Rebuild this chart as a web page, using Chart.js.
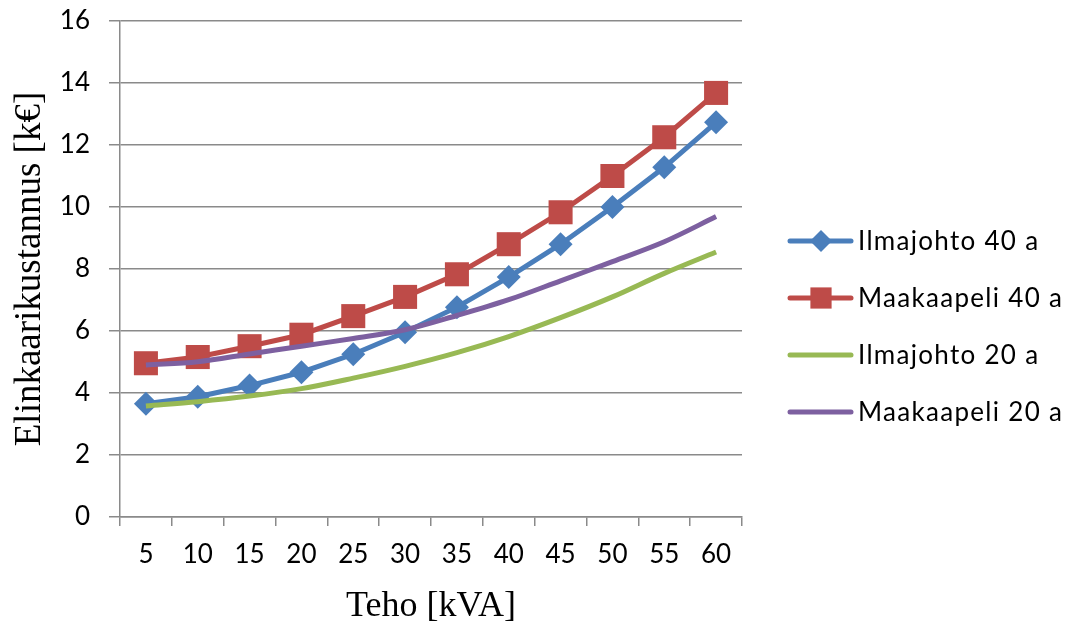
<!DOCTYPE html>
<html>
<head>
<meta charset="utf-8">
<script src="https://cdn.jsdelivr.net/npm/chart.js@4.4.1/dist/chart.umd.min.js"></script>
<style>
html,body{margin:0;padding:0;background:#fff;}
#wrap{position:relative;width:1076px;height:628px;}
</style>
</head>
<body>
<div id="wrap"><canvas id="c" width="1076" height="628"></canvas></div>
<script>
const categories = ['5','10','15','20','25','30','35','40','45','50','55','60'];
const ilmajohto40 = [3.65, 3.88, 4.24, 4.67, 5.25, 5.96, 6.77, 7.74, 8.80, 10.0, 11.28, 12.73];
const maakaapeli40 = [4.96, 5.16, 5.51, 5.88, 6.48, 7.10, 7.83, 8.80, 9.83, 11.0, 12.25, 13.68];
const ilmajohto20 = [3.58, 3.72, 3.90, 4.14, 4.48, 4.86, 5.30, 5.82, 6.43, 7.10, 7.86, 8.55];
const maakaapeli20 = [4.90, 5.01, 5.26, 5.51, 5.76, 6.04, 6.50, 7.01, 7.62, 8.24, 8.88, 9.69];
const seriesNames = ['Ilmajohto 40 a','Maakaapeli 40 a','Ilmajohto 20 a','Maakaapeli 20 a'];
const yTitle = 'Elinkaarikustannus [k€]';
const xTitle = 'Teho [kVA]';

const GRID = '#8a8a8a';
const tickFont = {family: 'Lato, "Liberation Sans", sans-serif', size: 26};

const legendPlugin = {
  id: 'customLegend',
  afterDraw(chart) {
    const ctx = chart.ctx;
    const ys = [241, 298, 355, 412];
    const legendRadius = [11, 15, 0, 0];
    chart.data.datasets.forEach((ds, i) => {
      const y = ys[i];
      ctx.save();
      ctx.strokeStyle = ds.borderColor;
      ctx.lineWidth = ds.borderWidth;
      ctx.lineCap = 'round';
      ctx.beginPath();
      ctx.moveTo(790, y);
      ctx.lineTo(851, y);
      ctx.stroke();
      if (legendRadius[i] > 0) {
        ctx.fillStyle = ds.pointBackgroundColor;
        ctx.strokeStyle = ds.pointBorderColor;
        ctx.lineWidth = 0;
        Chart.helpers.drawPoint(ctx, {pointStyle: ds.pointStyle, radius: legendRadius[i], borderWidth: 0, rotation: 0}, 821, y);
      }
      ctx.fillStyle = '#000';
      ctx.font = '26px Lato, "Liberation Sans", sans-serif';
      try { ctx.letterSpacing = '1.3px'; } catch (e) {}
      ctx.textBaseline = 'middle';
      ctx.textAlign = 'left';
      ctx.fillText(ds.label, 858, y + 1);
      ctx.restore();
    });
  }
};

function noPad(s) { s.paddingTop = 0; s.paddingBottom = 0; s.paddingLeft = 0; s.paddingRight = 0; }

new Chart(document.getElementById('c'), {
  type: 'line',
  data: {
    labels: categories,
    datasets: [
      {label: seriesNames[0], data: ilmajohto40, borderColor: '#4A7EBB', backgroundColor: '#4A7EBB', borderWidth: 5,
       pointStyle: 'rectRot', pointRadius: 12, pointBackgroundColor: '#4A7EBB', pointBorderColor: '#4A7EBB', pointBorderWidth: 0, tension: 0, order: 2},
      {label: seriesNames[1], data: maakaapeli40, borderColor: '#BE4B48', backgroundColor: '#BE4B48', borderWidth: 5,
       pointStyle: 'rect', pointRadius: 17, pointBackgroundColor: '#BE4B48', pointBorderColor: '#BE4B48', pointBorderWidth: 0, tension: 0, order: 3},
      {label: seriesNames[2], data: ilmajohto20, borderColor: '#98B954', backgroundColor: '#98B954', borderWidth: 5,
       pointRadius: 0, tension: 0.35, order: 1},
      {label: seriesNames[3], data: maakaapeli20, borderColor: '#7D60A0', backgroundColor: '#7D60A0', borderWidth: 5,
       pointRadius: 0, tension: 0.35, order: 0}
    ]
  },
  options: {
    responsive: false,
    animation: false,
    devicePixelRatio: 1,
    layout: {padding: {left: 0, top: 21, right: 334, bottom: 0}},
    plugins: {legend: {display: false}, tooltip: {enabled: false}, title: {display: false}},
    scales: {
      x: {
        type: 'category',
        offset: true,
        grid: {display: true, drawOnChartArea: false, drawTicks: true, tickLength: 9, offset: true, color: GRID, lineWidth: 1.5},
        border: {display: true, color: GRID, width: 1.5},
        ticks: {font: tickFont, color: '#000', padding: 13, maxRotation: 0, autoSkip: false},
        title: {display: true, text: xTitle, color: '#000', font: {family: '"Liberation Serif", "Times New Roman", serif', size: 36, lineHeight: 1}, padding: {top: 0, bottom: 3}},
        afterFit(s) { s.height = 111; noPad(s); }
      },
      y: {
        min: 0, max: 16,
        grid: {color: GRID, lineWidth: 1.5, tickLength: 11, drawTicks: true},
        border: {display: true, color: GRID, width: 1.5},
        ticks: {stepSize: 2, font: tickFont, color: '#000', padding: 19},
        title: {display: true, text: yTitle, color: '#000', font: {family: '"Liberation Serif", "Times New Roman", serif', size: 37, lineHeight: 1}, padding: {top: 12, bottom: 0}},
        afterFit(s) { s.width = 120; noPad(s); }
      }
    }
  },
  plugins: [legendPlugin]
});
</script>
</body>
</html>
